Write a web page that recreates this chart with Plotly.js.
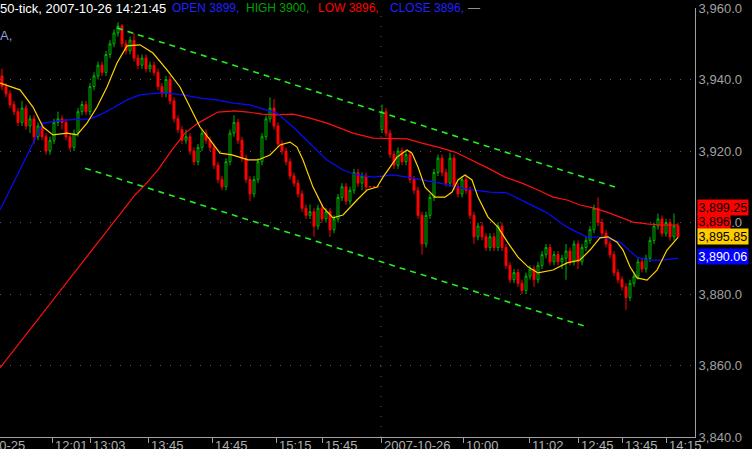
<!DOCTYPE html>
<html><head><meta charset="utf-8">
<script src="https://cdn.plot.ly/plotly-3.0.1.min.js"></script>
<style>html,body{margin:0;padding:0;background:#000;}#chart{width:752px;height:449px;}</style>
</head><body><div id="chart"></div>
<script>
// ---- data ----
const opens = [3941,3938,3936,3933,3931,3928,3932,3927,3929,3924,
 3927,3924,3920,3923,3928,3929,3928,3924,3921,3925,
 3931,3933,3931,3938,3941,3944,3942,3947,3950,3953,
 3955,3950,3948,3951,3946,3944,3946,3943,3944,3942,
 3938,3936,3940,3934,3929,3926,3923,3924,3920,3917,
 3921,3925,3923,3921,3916,3912,3910,3917,3925,3928,
 3923,3918,3912,3908,3912,3917,3924,3929,3932,3927,
 3922,3920,3917,3913,3911,3908,3904,3902,3903,3899,
 3904,3901,3903,3898,3901,3907,3910,3906,3909,3914,
 3911,3913,3910,3910,3910,3926,3931,3925,3919,3916,
 3920,3917,3919,3912,3909,3902,3894,3902,3907,3914,
 3918,3914,3911,3918,3910,3908,3912,3909,3902,3896,
 3899,3896,3893,3896,3893,3899,3893,3888,3884,3886,
 3883,3881,3885,3887,3884,3888,3891,3893,3889,3891,
 3889,3890,3892,3889,3894,3889,3893,3895,3898,3904,
 3900,3897,3894,3891,3886,3884,3882,3879,3883,3885,
 3889,3887,3890,3895,3899,3901,3897,3900,3896,3899];
const highs = [3943,3939,3937,3934,3932,3934,3933,3930,3930,3928,
 3928,3925,3924,3929,3931,3930,3929,3925,3926,3932,
 3934,3934,3939,3942,3945,3945,3948,3951,3954,3956,
 3955.5,3951,3952,3953,3947,3947,3947,3945,3945,3943,
 3939,3941,3941,3935,3930,3927,3926,3925,3921,3922,
 3926,3926,3924,3922,3917,3913,3918,3926,3930,3929,
 3924,3919,3913,3913,3918,3925,3930,3935,3934.5,3928,
 3923,3921,3918,3914,3912,3909,3905,3905,3904,3905,
 3905,3904,3904,3902,3908,3911,3911,3910,3915,3915,
 3914,3914,3910,3910,3910,3933,3932,3926,3920,3921,
 3921,3920,3920,3913,3910,3903,3903,3908,3915,3919,
 3919,3915,3919.5,3919,3911,3913,3913,3910,3903,3900,
 3900,3897,3897,3897,3900,3900,3894,3889,3887,3887,
 3884,3886,3888,3888,3889,3892,3894,3894,3892,3892,
 3891,3894,3893,3895,3895,3894,3896,3899,3905,3907,
 3901,3898,3895,3892,3887,3885,3883,3884,3886,3890,
 3890,3891,3896,3900,3902.5,3902,3901,3901,3902.5,3900];
const lows = [3937,3935,3932,3930,3927,3927,3926,3925,3922,3923,
 3923,3919,3919,3922,3927,3926,3923,3920,3920,3924,
 3930,3930,3930,3937,3940,3941,3941,3946,3949,3952,
 3949,3947,3947,3945,3943,3943,3942,3942,3941,3937,
 3935,3935,3933,3928,3925,3922,3922,3919,3916,3916,
 3920,3922,3920,3915,3911,3909,3909,3916,3924,3922,
 3917,3911,3906,3907,3911,3916,3923,3928,3926,3921,
 3919,3916,3912,3910,3907,3903,3901,3901,3896,3898,
 3900,3900,3896,3897,3900,3906,3905,3905,3908,3910,
 3909,3909,3910,3910,3910,3925,3924,3918,3915,3915,
 3916,3916,3911,3908,3901,3891,3893,3901,3906,3913,
 3913,3910,3910,3909,3907,3907,3908,3901,3894,3895,
 3895,3892,3892,3892,3892,3892,3887,3883,3883,3882,
 3880,3880,3884,3882,3883,3887,3890,3888,3888,3888,
 3887,3884,3888,3888,3887,3888,3892,3894,3897,3899,
 3896,3893,3890,3885,3883,3881,3875.5,3878,3882,3884,
 3886,3886,3889,3894,3898,3896,3896,3895,3895,3896];
const closes = [3938,3936,3933,3931,3928,3932,3927,3929,3924,3927,
 3924,3920,3923,3928,3929,3928,3924,3921,3925,3931,
 3933,3931,3938,3941,3944,3942,3947,3950,3953,3955,
 3950,3948,3951,3946,3944,3946,3943,3944,3942,3938,
 3936,3940,3934,3929,3926,3923,3924,3920,3917,3921,
 3925,3923,3921,3916,3912,3910,3917,3925,3928,3923,
 3918,3912,3908,3912,3917,3924,3929,3932,3927,3922,
 3920,3917,3913,3911,3908,3904,3902,3903,3899,3904,
 3901,3903,3898,3901,3907,3910,3906,3909,3914,3911,
 3913,3910,3910,3910,3910,3931,3925,3919,3916,3920,
 3917,3919,3912,3909,3902,3894,3902,3907,3914,3918,
 3914,3911,3918,3910,3908,3912,3909,3902,3896,3899,
 3896,3893,3896,3893,3899,3893,3888,3884,3886,3883,
 3881,3885,3887,3884,3888,3891,3893,3889,3891,3889,
 3890,3892,3889,3894,3889,3893,3895,3898,3904,3900,
 3897,3894,3891,3886,3884,3882,3879,3883,3885,3889,
 3887,3890,3895,3899,3901,3897,3900,3896,3899,3896];

// moving averages (bar index, value)
const maFastX = [-0.5,4.5,7.75,10.25,12.75,16.25,18.75,21.25,23.75,26.25,28.75,31.25,34.5,37.75,41.25,44.5,47,49.5,52,54.5,57.5,61.5,64,67,69.5,72,73.75,75.25,77.75,80.25,82.75,85.25,88.75,91.25,93.75,95.25,97,98.75,101.25,102.5,104,105.75,108.25,110.75,112.5,114,115.75,117.5,119,121.5,124,126.5,129,131.5,134,137.75,141.25,144.5,147,149.5,151.5,153.75,155.25,157,158.75,161.25,163.75,166.25,169];
const maFastY = [3939.0,3937.1,3932.3,3926.7,3924.5,3925.0,3924.5,3927.8,3932.3,3937.9,3944.6,3949.4,3949.7,3947.4,3942.7,3937.9,3932.3,3926.7,3923.1,3919.4,3918.9,3917.5,3917.5,3918.9,3921.7,3922.5,3921.1,3917.5,3909.9,3904.3,3901.3,3902.1,3906.3,3909.1,3909.9,3912.7,3915.5,3918.3,3920.3,3919.4,3915.5,3909.9,3907.1,3907.1,3908.5,3911.9,3913.3,3911.9,3907.1,3901.5,3898.7,3894.3,3890.3,3887.6,3885.9,3886.7,3888.7,3889.5,3892.3,3895.7,3896.0,3894.5,3892.3,3887.6,3884.5,3883.9,3886.7,3892.3,3895.85];
const maMidX = [-0.5,2,4.5,7.75,10.25,12,16.25,22,24.5,27.75,31.25,34.5,38.75,41.25,45.25,49.5,53.75,57.75,62,64.5,68.75,72.75,77,81.25,85.25,88.75,92.75,97.75,101.25,105.25,109.5,113.75,117.75,122,126.25,131.25,136.25,141.25,146.25,150.25,154.5,158.75,162,165.25,169];
const maMidY = [3903.5,3909.1,3914.7,3922.2,3927.8,3928.1,3928.7,3929.0,3930.1,3932.0,3934.3,3935.7,3936.2,3936.2,3935.7,3934.8,3934.3,3933.4,3932.9,3932.0,3930.6,3926.7,3922.2,3917.5,3914.7,3913.3,3912.7,3913.3,3912.7,3911.9,3911.0,3909.9,3909.1,3908.5,3908.3,3905.5,3902.7,3898.7,3895.9,3895.9,3894.5,3890.3,3889.5,3889.5,3890.06];
const maSlowX = [-0.5,12,24.5,33.25,35.75,39,42.5,45.75,49,52.5,54,58.25,61.5,65,68.25,72.75,77,81.25,83.75,87.75,92.75,97,101.25,105,109,113.25,117.5,121.5,125.75,130,134,137.75,141.25,144.5,147.75,151.25,154.5,157.75,161.25,164.5,169];
const maSlowY = [3859.3,3877.2,3895.1,3907.7,3910.5,3914.7,3920.3,3925.0,3927.8,3930.1,3930.9,3931.2,3930.9,3930.3,3930.1,3930.3,3929.2,3927.8,3926.7,3925.0,3923.6,3923.6,3923.4,3922.2,3921.1,3919.7,3917.5,3915.2,3912.7,3911.0,3909.1,3907.1,3906.3,3904.9,3904.1,3902.9,3901.5,3900.1,3899.6,3899.3,3899.25];

// channel lines
const channelUpperX = [28.75,153.25];
const channelUpperY = [3954.4,3909.9];
const channelLowerX = [20.75,146.25];
const channelLowerY = [3915.2,3870.8];

// time axis
const tickVals = [12.5,22,36.5,52.5,68.5,80,94.75,115.25,131.75,144,155,166];
const tickText = ["12:01","13:03","13:45","14:45","15:15","15:45","2007-10-26","10:00","11:02","12:45","13:45","14:15"];
const firstDayLabel = "10-25";

// last values tags
const tagValues = [3899.25, 3896, 3895.85, 3890.06];
const tagText = ["3,899.25","3,896","3,895.85","3,890.06"];

// header
const headerTitle = "50-tick, 2007-10-26 14:21:45";
const headerOHLC = ["OPEN 3899,","HIGH 3900,","LOW 3896,","CLOSE 3896,"];

const idx = closes.map((_, i) => i);
const FONT = "Liberation Sans, Arial, sans-serif";
const PW = 695;

const traces = [
  {type:'candlestick', x:idx, open:opens, high:highs, low:lows, close:closes,
   increasing:{line:{color:'#00b400', width:1}, fillcolor:'#000000'},
   decreasing:{line:{color:'#ff0000', width:1}, fillcolor:'#ff0000'},
   whiskerwidth:0, hoverinfo:'skip'},
  {type:'scatter', mode:'lines', x:maSlowX, y:maSlowY, line:{color:'#ff1010', width:1.2}, hoverinfo:'skip'},
  {type:'scatter', mode:'lines', x:maMidX, y:maMidY, line:{color:'#0a0aff', width:1.2}, hoverinfo:'skip'},
  {type:'scatter', mode:'lines', x:maFastX, y:maFastY, line:{color:'#ffd200', width:1.2}, hoverinfo:'skip'},
  {type:'scatter', mode:'lines', x:channelUpperX, y:channelUpperY, line:{color:'#22ee22', width:1.6, dash:'6px,5px'}, hoverinfo:'skip'},
  {type:'scatter', mode:'lines', x:channelLowerX, y:channelLowerY, line:{color:'#22ee22', width:1.6, dash:'6px,5px'}, hoverinfo:'skip'}
];

const annotations = [];
const hdrPos = [0, 172, 246, 318, 390];
const hdrCol = ['#ffffff','#2020ff','#00a000','#ff0000','#2020ff'];
const hdrSize = [13, 12, 12, 12, 12];
[headerTitle].concat(headerOHLC).forEach((t, k) => {
  annotations.push({text:t, xref:'paper', yref:'paper', x:hdrPos[k]/PW, y:1, xanchor:'left', yanchor:'middle',
    showarrow:false, borderpad:0, xshift:-1, font:{family:FONT, size:hdrSize[k], color:hdrCol[k]}});
});
annotations.push({text:'—', xref:'paper', yref:'paper', x:467/PW, y:1, xanchor:'left', yanchor:'middle', showarrow:false, borderpad:0,
  font:{family:FONT, size:12, color:'#909090'}});
annotations.push({text:'A,', xref:'paper', yref:'paper', x:0, y:1, xanchor:'left', yanchor:'middle', yshift:-27, showarrow:false, borderpad:0, xshift:-1,
  font:{family:FONT, size:13, color:'#9a9ad8'}});
annotations.push({text:firstDayLabel, xref:'paper', yref:'paper', x:0, y:0, xanchor:'left', yanchor:'top', xshift:-9, yshift:0, showarrow:false, borderpad:0,
  font:{family:FONT, size:13, color:'#b0b0b0'}});
tickVals.forEach((v, k) => {
  annotations.push({text:tickText[k], xref:'x', yref:'paper', x:v, y:0, xanchor:'left', yanchor:'top', xshift:2, yshift:0,
    showarrow:false, borderpad:0, font:{family:FONT, size:13, color:'#b0b0b0'}});
});

const tagBg = ['#ff0000','#ff0000','#ffcc00','#0000ff'];
const tagFg = ['#000000','#000000','#000000','#ffffff'];
const tagShift = [17.5, 15.8, 1.3, 2];
tagValues.forEach((v, k) => {
  annotations.push({text:tagText[k], xref:'paper', yref:'y', x:1, y:v, xanchor:'left', yanchor:'middle', xshift:2, yshift:tagShift[k],
    showarrow:false, bgcolor:tagBg[k], borderpad:0.5, font:{family:FONT, size:12.5, color:tagFg[k]}});
});

const layout = {
  width:752, height:449,
  margin:{l:0, r:57, t:8, b:12, pad:0},
  paper_bgcolor:'#000000', plot_bgcolor:'#000000',
  showlegend:false,
  font:{family:FONT, size:13, color:'#a0a0a0'},
  xaxis:{type:'linear', range:[-0.5, 173.25], rangeslider:{visible:false}, automargin:false,
    tickmode:'array', tickvals:tickVals, ticktext:tickText, ticks:'outside', ticklen:5, tickcolor:'#a0a0a0',
    showticklabels:false,
    showgrid:false, zeroline:false, showline:true, linecolor:'#a0a0a0', linewidth:1, fixedrange:true},
  yaxis:{side:'right', range:[3840, 3960], dtick:20, tick0:3840, tickformat:',.1f', automargin:false,
    tickfont:{family:FONT, size:13, color:'#a0a0a0'}, ticks:'', showgrid:true, gridcolor:'#5a5a5a', griddash:'1px,9px',
    zeroline:false, showline:true, linecolor:'#a0a0a0', linewidth:1, fixedrange:true},
  shapes:[{type:'line', xref:'x', yref:'paper', x0:tickVals[6], x1:tickVals[6], y0:0, y1:1,
    line:{color:'#5a5a5a', width:1, dash:'1px,9px'}}],
  annotations:annotations
};

Plotly.newPlot('chart', traces, layout, {displayModeBar:false, staticPlot:true});
</script>
</body></html>
